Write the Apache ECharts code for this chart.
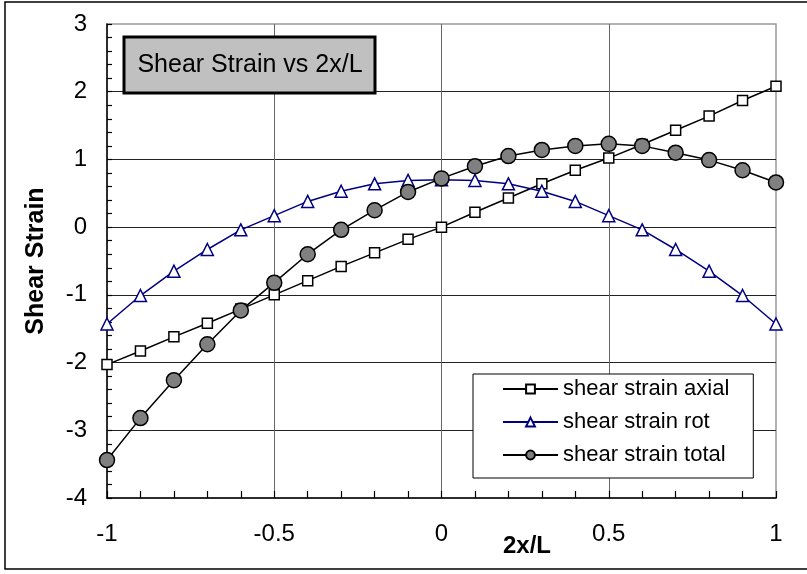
<!DOCTYPE html>
<html>
<head>
<meta charset="utf-8">
<script src="https://cdn.jsdelivr.net/npm/echarts@6/dist/echarts.min.js"></script>
<style>
html,body{margin:0;padding:0;background:#fff;}
#chart{width:807px;height:574px;}
</style>
</head>
<body>
<div id="chart"></div>
<script>
const xValues = [-1,-0.9,-0.8,-0.7,-0.6,-0.5,-0.4,-0.3,-0.2,-0.1,0,0.1,0.2,0.3,0.4,0.5,0.6,0.7,0.8,0.9,1];
const axial = [-2.03,-1.83,-1.62,-1.42,-1.21,-1.00,-0.79,-0.58,-0.38,-0.18,0.00,0.22,0.43,0.64,0.84,1.02,1.22,1.43,1.64,1.87,2.08];
const rot = [-1.43,-1.01,-0.65,-0.33,-0.04,0.17,0.38,0.53,0.64,0.69,0.70,0.69,0.64,0.53,0.38,0.17,-0.04,-0.33,-0.65,-1.01,-1.43];
const total = [-3.44,-2.82,-2.26,-1.73,-1.23,-0.82,-0.40,-0.04,0.25,0.52,0.72,0.90,1.05,1.14,1.20,1.23,1.20,1.10,0.99,0.84,0.66];
const seriesNames = ['shear strain axial','shear strain rot','shear strain total'];
const chartTitle = 'Shear Strain vs 2x/L';
const xName = '2x/L';
const yName = 'Shear Strain';

const FONT = '"Liberation Sans", Arial, sans-serif';
const pairs = ys => xValues.map((x, i) => [x, ys[i]]);

const chart = echarts.init(document.getElementById('chart'), null, {renderer: 'canvas'});
chart.setOption({
  animation: false,
  backgroundColor: '#fff',
  grid: {left: 107, right: 31, top: 24, bottom: 76, show: true, borderColor: '#999', borderWidth: 1.5, backgroundColor: 'transparent'},
  xAxis: {
    type: 'value', min: -1, max: 1, interval: 0.5,
    axisLine: {show: true, onZero: false, lineStyle: {color: '#000', width: 1.5}},
    axisTick: {show: true, inside: true, length: 7, lineStyle: {color: '#000', width: 1.2}},
    minorTick: {show: true, splitNumber: 5, length: 7, lineStyle: {color: '#000', width: 1.2}},
    splitLine: {show: true, showMinLine: false, showMaxLine: false, lineStyle: {color: '#666', width: 1}},
    axisLabel: {fontFamily: FONT, fontSize: 24, color: '#000', margin: 24}
  },
  yAxis: {
    type: 'value', min: -4, max: 3, interval: 1,
    name: yName, nameLocation: 'middle', nameGap: 58,
    nameTextStyle: {fontFamily: FONT, fontSize: 25, fontWeight: 'bold', color: '#000'},
    axisLine: {show: true, onZero: false, lineStyle: {color: '#000', width: 1.5}},
    axisTick: {show: true, inside: true, length: 5, lineStyle: {color: '#000', width: 1.2}},
    minorTick: {show: true, splitNumber: 5, length: 5, lineStyle: {color: '#000', width: 1.2}},
    splitLine: {show: true, showMinLine: false, showMaxLine: false, lineStyle: {color: '#222', width: 1}},
    axisLabel: {fontFamily: FONT, fontSize: 24, color: '#000', margin: 20}
  },
  legend: {
    orient: 'vertical', left: 473, top: 374,
    width: 280,
    padding: [4, 24, 12, 29],
    itemWidth: 55, itemHeight: 11, itemGap: 11,
    backgroundColor: '#fff', borderColor: '#000', borderWidth: 1,
    textStyle: {fontFamily: FONT, fontSize: 22, color: '#000'},
    data: seriesNames
  },
  graphic: [
    {type: 'rect', shape: {x: 5, y: 2, width: 840, height: 567}, style: {fill: 'none', stroke: '#000', lineWidth: 1.5}, silent: true, z: -10},
    {type: 'rect', shape: {x: 124, y: 37, width: 251, height: 56}, style: {fill: '#c0c0c0', stroke: '#000', lineWidth: 3}, z: 100},
    {type: 'text', x: 250, y: 65, style: {text: chartTitle, font: '25px ' + FONT, fill: '#000', align: 'center', verticalAlign: 'middle'}, z: 101},
    {type: 'text', x: 527, y: 546, style: {text: xName, font: 'bold 24px ' + FONT, fill: '#000', align: 'center', verticalAlign: 'middle'}, z: 101}
  ],
  series: [
    {
      name: seriesNames[0], type: 'line', data: pairs(axial), z: 3,
      symbol: 'rect', symbolSize: 10,
      lineStyle: {color: '#000', width: 1.5},
      itemStyle: {color: '#fff', borderColor: '#000', borderWidth: 1.5}
    },
    {
      name: seriesNames[1], type: 'line', data: pairs(rot), z: 4,
      symbol: 'triangle', symbolSize: 12,
      lineStyle: {color: '#000080', width: 1.5},
      itemStyle: {color: '#fff', borderColor: '#000080', borderWidth: 1.5}
    },
    {
      name: seriesNames[2], type: 'line', data: pairs(total), z: 5,
      symbol: 'circle', symbolSize: 15,
      lineStyle: {color: '#000', width: 1.5},
      itemStyle: {color: '#808080', borderColor: '#000', borderWidth: 1.5}
    }
  ]
});
</script>
</body>
</html>
